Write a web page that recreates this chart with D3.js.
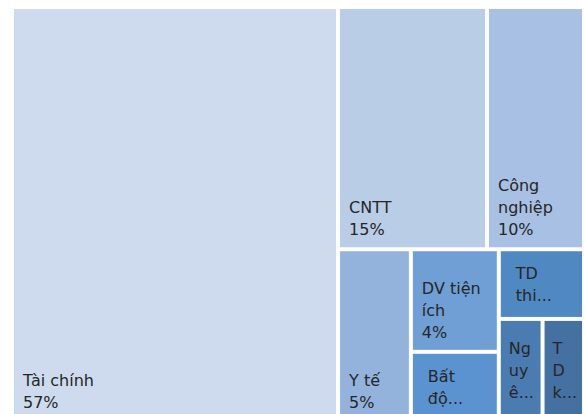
<!DOCTYPE html>
<html>
<head>
<meta charset="utf-8">
<script src="https://cdn.jsdelivr.net/npm/d3@7"></script>
<style>
  html, body { margin: 0; padding: 0; background: #ffffff; }
  svg { display: block; }
</style>
</head>
<body>
<svg id="chart" width="584" height="414"></svg>
<script>
// ---- data ----
const categories = ["Tài chính", "CNTT", "Công nghiệp", "Y tế", "DV tiện ích",
  "Bất động sản", "TD thiết yếu", "Nguyên vật liệu", "TD không thiết yếu"];
const values = [57.0, 15.2, 9.9, 5.3, 3.8, 2.6, 2.5, 1.9, 1.8];
// visible (wrapped / truncated) label lines, as shown in the picture
const displayLines = [["Tài chính"], ["CNTT"], ["Công", "nghiệp"], ["Y tế"], ["DV tiện", "ích"],
  ["Bất", "độ..."], ["TD", "thi..."], ["Ng", "uy", "ê..."], ["T", "D", "k..."]];
const colors = ["#cedbee", "#bacde6", "#a7c0e3", "#93b3dd", "#6f9fd5",
  "#5a93cf", "#5089c2", "#4a7cb2", "#4571a2"];
// grouping of the tiles (indices into categories)
const layoutTree = [0, [[1, 2], [3, [4, 5], [6, [7, 8]]]]];

// ---- chart ----
const plot = { x: 14, y: 9, w: 568, h: 411 };
const total = d3.sum(values);
const pct = d3.format(".0%");

function build(node) {
  if (Array.isArray(node)) return { children: node.map(build) };
  return { index: node, name: categories[node], value: values[node] };
}
const root = d3.hierarchy(build(layoutTree)).sum(d => d.value || 0);
d3.treemap().tile(d3.treemapSliceDice).size([plot.w, plot.h]).paddingInner(4).round(false)(root);

const color = d3.scaleOrdinal().domain(categories).range(colors);

const svg = d3.select("#chart");
const g = svg.append("g").attr("transform", `translate(${plot.x},${plot.y})`);

const leaves = g.selectAll("g.leaf").data(root.leaves()).join("g").attr("class", "leaf");

leaves.append("rect")
  .attr("x", d => d.x0).attr("y", d => d.y0)
  .attr("width", d => d.x1 - d.x0).attr("height", d => d.y1 - d.y0)
  .attr("fill", d => color(d.data.name));

const fs = 16, lh = 22;
leaves.each(function(d) {
  const sel = d3.select(this);
  const i = d.data.index;
  const lines = displayLines[i].slice();
  const truncated = lines.some(l => l.endsWith("..."));
  if (!truncated) lines.push(pct(d.data.value / total));
  const text = sel.append("text")
    .attr("font-family", "DejaVu Sans, Verdana, sans-serif")
    .attr("font-size", fs)
    .attr("fill", "#262626");
  const n = lines.length;
  const tspans = lines.map((l, k) => text.append("tspan").text(l));
  if (!truncated) {
    const lastBase = d.y1 - 12;
    tspans.forEach((t, k) => t.attr("x", d.x0 + 9).attr("y", lastBase - (n - 1 - k) * lh));
  } else {
    const bw = d3.max(tspans, t => t.node().getComputedTextLength());
    const w = d.x1 - d.x0;
    const xs = d.x0 + Math.min(15, Math.max(8, (w - bw) / 2));
    const cy = (d.y0 + d.y1) / 2;
    tspans.forEach((t, k) => t.attr("x", xs).attr("y", cy + (k - (n - 1) / 2) * lh + 6));
  }
});
</script>
</body>
</html>
